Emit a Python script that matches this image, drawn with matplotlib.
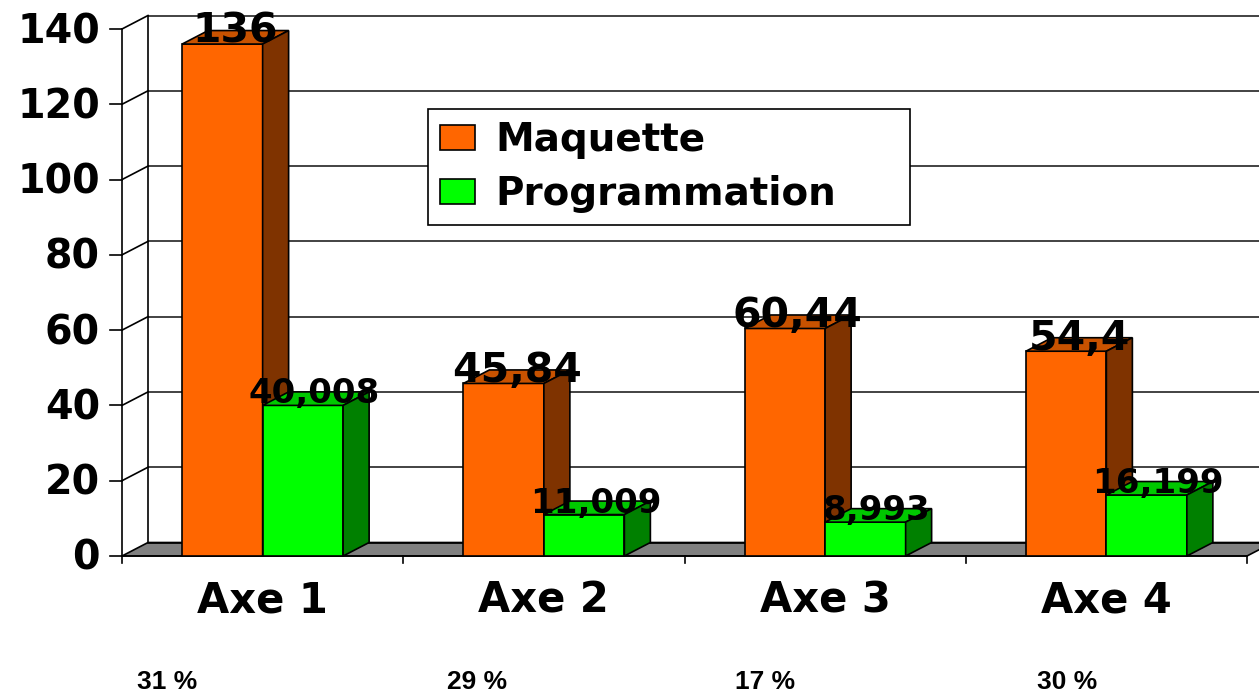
import matplotlib
matplotlib.use("Agg")
import matplotlib.pyplot as plt
from matplotlib.patches import Polygon, Patch

# ---------------- data ----------------
categories = ["Axe 1", "Axe 2", "Axe 3", "Axe 4"]
series_names = ["Maquette", "Programmation"]
maquette = [136, 45.84, 60.44, 54.4]
programmation = [40.008, 11.009, 8.993, 16.199]
maquette_labels = ["136", "45,84", "60,44", "54,4"]
programmation_labels = ["40,008", "11,009", "8,993", "16,199"]
y_ticks = [0, 20, 40, 60, 80, 100, 120, 140]
shares = ["31 %", "29 %", "17 %", "30 %"]

# ---------------- style ----------------
W, H, DPI = 1259, 692, 100
plt.rcParams['font.family'] = ['DejaVu Sans']
plt.rcParams['font.weight'] = 'bold'

ORANGE = ('#FF6600', '#C85200', '#7F3300')   # front, top, side
GREEN = ('#00FF00', '#00C800', '#008000')
FLOOR = '#808080'
LW = 1.2

fig = plt.figure(figsize=(W / DPI, H / DPI), dpi=DPI)
ax = fig.add_axes([122 / W, 136 / H, 1125 / W, 527 / H])
n = len(categories)
ax.set_xlim(0, n)
ax.set_ylim(0, y_ticks[-1])
ax.axis('off')

# pixel -> data unit conversion for the pseudo-3D depth
p0 = ax.transData.transform((0, 0))
p1 = ax.transData.transform((1, 1))
upx, upy = p1[0] - p0[0], p1[1] - p0[1]
DX, DY = 26 / upx, 13.5 / upy
BW = 80.5 / upx

ymax = y_ticks[-1]

# back wall grid lines + side wall diagonals + ticks
for t in y_ticks:
    if t > 0:
        ax.plot([DX, n + DX + 1], [t + DY, t + DY], color='#222222', lw=LW,
                zorder=1, clip_on=False, solid_capstyle='butt')
        ax.plot([0, DX], [t, t + DY], color='black', lw=LW, zorder=1, clip_on=False)
    ax.plot([-12 / upx, 0], [t, t], color='black', lw=LW, zorder=1, clip_on=False)
    ax.text(-22 / upx, t - 14 / upy, str(t), ha='right', va='baseline',
            fontsize=28.5, fontweight='bold', clip_on=False)

# back left edge and front y axis
ax.plot([DX, DX], [DY, ymax + DY], color='black', lw=LW, zorder=1, clip_on=False)
ax.plot([0, 0], [0, ymax], color='black', lw=LW, zorder=1, clip_on=False)

# floor
ax.add_patch(Polygon([(0, 0), (n, 0), (n + DX, DY), (DX, DY)], closed=True,
                     facecolor=FLOOR, edgecolor='black', lw=LW, zorder=2, clip_on=False))
ax.plot([DX, n + DX + 1], [DY, DY], color='black', lw=LW, zorder=2, clip_on=False)

# x axis and category ticks
ax.plot([0, n], [0, 0], color='black', lw=LW, zorder=2.5, clip_on=False)
for i in range(n + 1):
    ax.plot([i, i], [0, -7 / upy], color='black', lw=LW, zorder=2.5, clip_on=False)
for i, c in enumerate(categories):
    ax.text(i + 0.5, -56 / upy, c, ha='center', va='baseline', fontsize=30,
            fontweight='bold', clip_on=False)


def bar3d(x0, x1, v, cols, z):
    front, top, side = cols
    ax.add_patch(Polygon([(x0, 0), (x1, 0), (x1, v), (x0, v)], closed=True,
                         facecolor=front, edgecolor='black', lw=LW, zorder=z, clip_on=False))
    ax.add_patch(Polygon([(x0, v), (x1, v), (x1 + DX, v + DY), (x0 + DX, v + DY)], closed=True,
                         facecolor=top, edgecolor='black', lw=LW, zorder=z, clip_on=False))
    ax.add_patch(Polygon([(x1, 0), (x1 + DX, DY), (x1 + DX, v + DY), (x1, v)], closed=True,
                         facecolor=side, edgecolor='black', lw=LW, zorder=z, clip_on=False))


for i in range(n):
    c = i + 0.5
    bar3d(c - BW, c, maquette[i], ORANGE, 3 + i * 0.1)
    bar3d(c, c + BW, programmation[i], GREEN, 3.05 + i * 0.1)
    ax.text(c - BW / 2 + 13 / upx, maquette[i] + 1.5 / upy, maquette_labels[i],
            ha='center', va='baseline', fontsize=29.5, fontweight='bold', zorder=10, clip_on=False)
    ax.text(c + BW / 2 + 11.5 / upx, programmation[i] + 2 / upy, programmation_labels[i],
            ha='center', va='baseline', fontsize=24.5, fontweight='bold', zorder=10, clip_on=False)

# legend
handles = [Patch(facecolor=ORANGE[0], edgecolor='black', lw=LW),
           Patch(facecolor=GREEN[0], edgecolor='black', lw=LW)]
leg = fig.legend(handles, series_names, loc='upper left',
                 bbox_to_anchor=(428 / W, 1 - 219 / H, (910 - 428) / W, (219 - 109) / H),
                 mode='expand', borderaxespad=0,
                 prop=dict(family='DejaVu Sans', weight='bold', size=28),
                 handlelength=0.9, handleheight=0.62, handletextpad=0.5,
                 borderpad=0.32, labelspacing=0.4, fancybox=False, framealpha=1,
                 edgecolor='black')
leg.get_frame().set_linewidth(LW)
leg.set_zorder(20)

# share labels under the chart
share_x = [137, 447, 735, 1037]
for s, x in zip(shares, share_x):
    fig.text(x / W, 3 / H, s, ha='left', va='baseline', fontsize=19,
             fontweight='bold', family='Liberation Sans')

fig.savefig('out.png', dpi=DPI)
